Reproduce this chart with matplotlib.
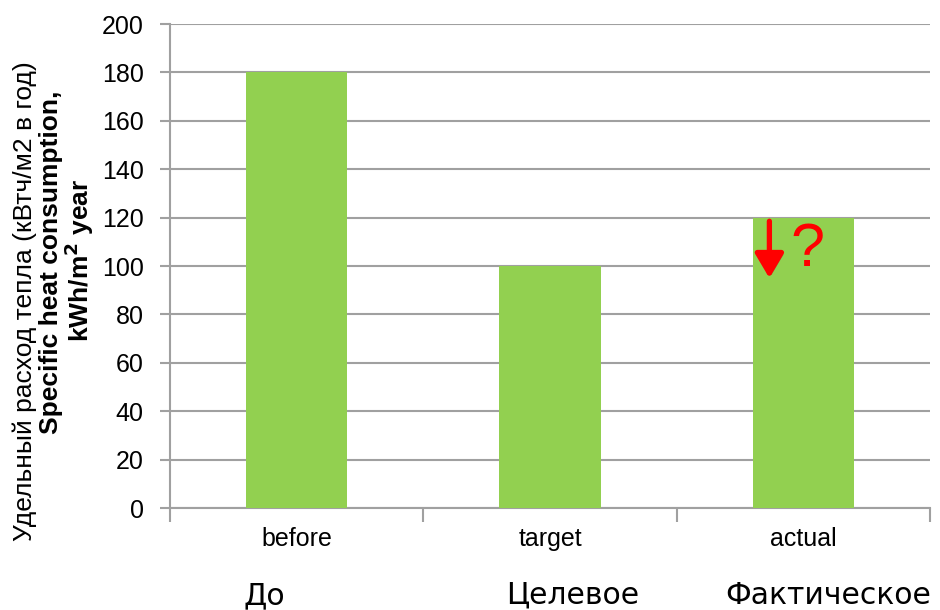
import matplotlib
matplotlib.use("Agg")
import matplotlib.pyplot as plt
import matplotlib.patheffects as pe
from matplotlib.ticker import FixedLocator

categories = ["before", "target", "actual"]
categories_ru = ["До", "Целевое", "Фактическое"]
values = [180, 100, 120]
yticks = [0, 20, 40, 60, 80, 100, 120, 140, 160, 180, 200]

plt.rcParams['font.family'] = ['Liberation Sans', 'DejaVu Sans']

fig = plt.figure(figsize=(9.4, 6.1), dpi=100)
ax = fig.add_axes([170/940, 1-508/610, 760/940, 484/610])

x = list(range(len(categories)))
ax.bar(x, values, width=0.4, color='#92D050', zorder=3)

ax.set_xlim(-0.5, 2.5)
ax.set_ylim(0, 200)
ax.set_yticks(yticks)
ax.yaxis.grid(True, color='#A0A0A0', linewidth=1.5, zorder=0)
ax.set_axisbelow(True)

for s in ['top', 'right']:
    ax.spines[s].set_visible(False)
for s in ['left', 'bottom']:
    ax.spines[s].set_color('#A0A0A0')
    ax.spines[s].set_linewidth(1.5)

ax.tick_params(axis='y', direction='out', length=7, width=1.5, color='#A0A0A0',
               labelsize=18, pad=12, labelcolor='black')
# x: ticks at category boundaries, labels at centers
ax.xaxis.set_major_locator(FixedLocator([-0.5, 0.5, 1.5, 2.5]))
ax.xaxis.set_minor_locator(FixedLocator(x))
ax.set_xticklabels([])
ax.set_xticklabels(categories, minor=True)
ax.tick_params(axis='x', which='major', direction='out', length=10, width=1.5, color='#A0A0A0')
ax.tick_params(axis='x', which='minor', length=0, labelsize=18, pad=14)

# Russian category labels below
offsets = [-0.126, 0.09, 0.1]
for xi, lab, off in zip(x, categories_ru, offsets):
    ax.text(xi + off, (508 - 604) / 484, lab, transform=ax.get_xaxis_transform(),
            ha='center', va='baseline', fontsize=21.5, family=['DejaVu Sans'],
            color='black')

# Y-axis labels
fig.text(25/940, 1-301/610, "Удельный расход тепла (кВтч/м2 в год)", rotation=90,
         ha='center', va='center', fontsize=19)
fig.text(51/940, 1-262/610, "Specific heat consumption,", rotation=90,
         ha='center', va='center', fontsize=19, fontweight='bold')
fig.text(79/940, 1-260/610, r"kWh/m$^\mathbf{2}$ year", rotation=90,
         ha='center', va='center', fontsize=19, fontweight='bold')

# Arrow and question mark on the 'actual' bar
shadow = [pe.SimplePatchShadow(offset=(1.5, -1.5), shadow_rgbFace='#5a7a30', alpha=0.5), pe.Normal()]
ax.annotate("", xy=(1.866, 95), xytext=(1.866, 118.5),
            arrowprops=dict(arrowstyle='-|>,head_width=0.62,head_length=1.05',
                            mutation_scale=14, color='#FF0000', lw=3.8,
                            shrinkA=0, shrinkB=0, path_effects=shadow), zorder=5)
ax.text(2.016, 106.5, "?", color='#FF0000', fontsize=44, ha='center', va='center', zorder=5)

fig.savefig("out.png", dpi=100)
